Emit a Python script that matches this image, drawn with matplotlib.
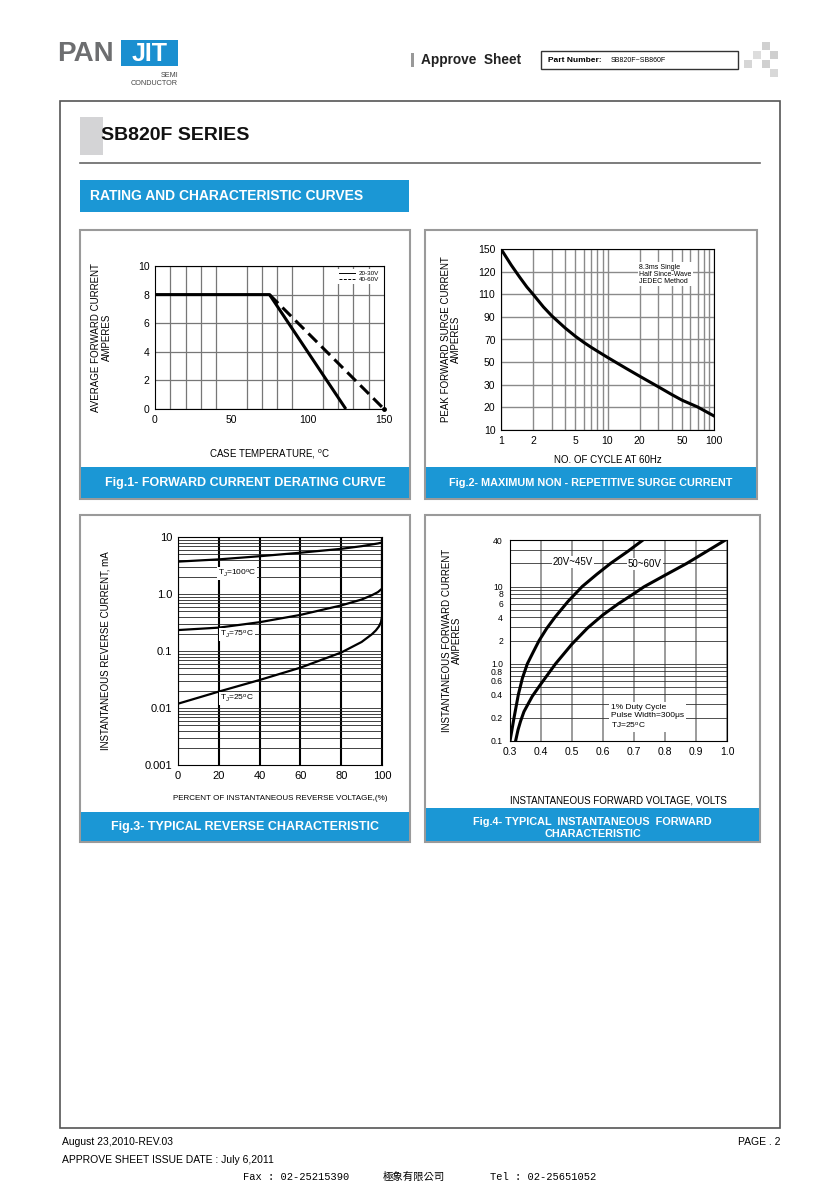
import numpy as np
import matplotlib
matplotlib.use("Agg")
import matplotlib.pyplot as plt
from matplotlib.patches import Rectangle
from matplotlib.lines import Line2D
from matplotlib.ticker import FixedLocator, NullFormatter, LogLocator

plt.rcParams["font.family"] = ["Liberation Sans", "DejaVu Sans"]
plt.rcParams["mathtext.fontset"] = "custom"
plt.rcParams["mathtext.rm"] = "Liberation Sans"
plt.rcParams["mathtext.it"] = "Liberation Sans:italic"

# ---------------- data ----------------
# Fig.1 forward current derating
temp_20_30 = [0, 75, 125]
amps_20_30 = [8, 8, 0]
temp_40_60 = [75, 150]
amps_40_60 = [8, 0]

# Fig.2 surge current
cycles = [1, 1.25, 1.5, 1.75, 2, 2.5, 3, 4, 5, 6, 7, 8, 10, 15, 20, 30, 40, 50, 70, 100]
surge = [150, 128.5, 117.5, 113.2, 110, 98.8, 90.9, 80.2, 72.8, 67.4, 63.2, 59.8, 54.2,
         44.4, 37.6, 29.1, 25.7, 23.2, 20.2, 16.2]
surge_ticks = [10, 20, 30, 50, 70, 90, 110, 120, 150]

# Fig.3 reverse characteristic
pct = [0, 20, 40, 60, 80, 90, 95, 98, 100]
ir_100 = [3.7, 4.05, 4.6, 5.3, 6.2, 6.9, 7.4, 7.7, 8.0]
ir_75 = [0.233, 0.257, 0.32, 0.43, 0.63, 0.8, 0.95, 1.08, 1.24]
pct_25 = [0, 20, 40, 60, 80, 90, 95, 97, 98.5, 99.5, 100, 100]
ir_25 = [0.0119, 0.0194, 0.031, 0.051, 0.094, 0.144, 0.196, 0.23, 0.27, 0.32, 0.4, 10]

# Fig.4 forward characteristic
vf_20_45 = [0.3, 0.313, 0.327, 0.34, 0.356, 0.375, 0.394, 0.418, 0.445, 0.487, 0.533,
            0.58, 0.625, 0.68, 0.729]
if_20_45 = [0.1, 0.2, 0.4, 0.65, 1.0, 1.42, 2.0, 2.85, 4.0, 6.4, 10, 14.4, 20, 28.5, 40]
vf_50_60 = [0.318, 0.326, 0.334, 0.345, 0.36, 0.372, 0.4, 0.447, 0.5, 0.55, 0.6, 0.65,
            0.7, 0.732, 0.8, 0.871, 0.93, 0.995]
if_50_60 = [0.1, 0.14, 0.18, 0.24, 0.31, 0.38, 0.55, 1.0, 1.8, 2.9, 4.3, 6.0, 8.1, 9.9,
            14, 20, 27.8, 40]
if_ticks = [0.1, 0.2, 0.4, 0.6, 0.8, 1.0, 2, 4, 6, 8, 10, 40]
if_labels = ["0.1", "0.2", "0.4", "0.6", "0.8", "1.0", "2", "4", "6", "8", "10", "40"]

# ---------------- page ----------------
W, H = 840, 1189
fig = plt.figure(figsize=(W / 100, H / 100), dpi=100)
fig.patch.set_facecolor("white")

page = fig.add_axes([0, 0, 1, 1])
page.set_xlim(0, W)
page.set_ylim(H, 0)
page.axis("off")

BLUE = "#1b97d5"


def box(x0, y0, x1, y1, **kw):
    page.add_patch(Rectangle((x0, y0), x1 - x0, y1 - y0, **kw))


def axes_at(x0, y0, x1, y1):
    return fig.add_axes([x0 / W, 1 - y1 / H, (x1 - x0) / W, (y1 - y0) / H])


# header
page.text(57, 54, "PAN", fontsize=20, fontweight="bold", color="#6d6e70", va="center")
box(121, 40, 178, 66, facecolor="#1a8fd0", edgecolor="none")
page.text(149.5, 54, "JIT", fontsize=18, fontweight="bold", color="white", va="center", ha="center")
page.text(178, 75.5, "SEMI", fontsize=5.2, color="#444444", ha="right", va="center")
page.text(178, 83.5, "CONDUCTOR", fontsize=5.2, color="#444444", ha="right", va="center")

box(411, 53, 414, 67, facecolor="#999999", edgecolor="none")
page.text(421, 60, "Approve  Sheet", fontsize=9.8, fontweight="bold", color="#222222", va="center")
box(541, 51, 738, 69, facecolor="white", edgecolor="#333333", lw=1)
page.text(548, 60, "Part Number:", fontsize=6, fontweight="bold", va="center")
page.text(611, 60.5, "SB820F~SB860F", fontsize=5, va="center")
for (cx, cy, c) in [(762, 42, "#d0d0d0"), (753, 51, "#dddddd"), (770, 51, "#cfcfcf"),
                    (744, 60, "#d6d6d6"), (762, 60, "#d0d0d0"), (770, 69, "#d8d8d8")]:
    box(cx, cy, cx + 8, cy + 8, facecolor=c, edgecolor="none")

# page frame
box(60, 101, 780, 1128, facecolor="none", edgecolor="#555555", lw=1.2)

box(80, 117, 103, 155, facecolor="#d4d4d6", edgecolor="none")
page.text(101, 136, "SB820F SERIES", fontsize=14, fontweight="bold", color="#111111", va="center")
page.plot([80, 760], [163, 163], color="#666666", lw=1.2)

box(80, 180, 409, 212, facecolor=BLUE, edgecolor="none")
page.text(90, 196, "RATING AND CHARACTERISTIC CURVES", fontsize=10, fontweight="bold",
          color="white", va="center")

# panels
panels = [
    (80, 230, 410, 499, 467, ["Fig.1- FORWARD CURRENT DERATING CURVE"], 9),
    (425, 230, 757, 499, 467, ["Fig.2- MAXIMUM NON - REPETITIVE SURGE CURRENT"], 7.8),
    (80, 515, 410, 842, 812, ["Fig.3- TYPICAL REVERSE CHARACTERISTIC"], 9),
    (425, 515, 760, 842, 808, ["Fig.4- TYPICAL  INSTANTANEOUS  FORWARD", "CHARACTERISTIC"], 7.8),
]
for x0, y0, x1, y1, yb, lines, fs in panels:
    box(x0, y0, x1, y1, facecolor="white", edgecolor="#9a9a9a", lw=1.5)
    box(x0 + 1, yb, x1 - 1, y1 - 1, facecolor=BLUE, edgecolor="none")
    if len(lines) == 1:
        page.text((x0 + x1) / 2, (yb + y1) / 2, lines[0], fontsize=fs, fontweight="bold",
                  color="white", ha="center", va="center")
    else:
        page.text((x0 + x1) / 2, yb + 14, lines[0], fontsize=fs, fontweight="bold",
                  color="white", ha="center", va="center")
        page.text((x0 + x1) / 2, yb + 26, lines[1], fontsize=fs, fontweight="bold",
                  color="white", ha="center", va="center")

# footer
page.text(62, 1142, "August 23,2010-REV.03", fontsize=7.5, va="center")
page.text(780, 1142, "PAGE . 2", fontsize=7.5, va="center", ha="right")
page.text(62, 1160, "APPROVE SHEET ISSUE DATE : July 6,2011", fontsize=7.5, va="center")
ff = ["Liberation Mono", "Noto Sans CJK TC"]
page.text(243, 1177, "Fax : 02-25215390", fontsize=7.5, va="center", family=ff)
page.text(383, 1177, "極象有限公司", fontsize=7.5, va="center", family=ff)
page.text(490, 1177, "Tel : 02-25651052", fontsize=7.5, va="center", family=ff)


def style(ax):
    for s in ax.spines.values():
        s.set_color("black")
        s.set_linewidth(0.8)
    ax.tick_params(which="both", length=0, labelsize=7.5, pad=4)


# ---------------- Fig.1 ----------------
ax1 = axes_at(155, 266, 384, 409)
ax1.plot(temp_20_30, amps_20_30, color="black", lw=2.2, solid_capstyle="butt")
ax1.plot(temp_40_60, amps_40_60, color="black", lw=2.2, dashes=(4, 2))
ax1.plot([temp_40_60[-1]], [amps_40_60[-1]], "o", color="black", ms=2.5, clip_on=False)
ax1.set_xlim(0, 150)
ax1.set_ylim(0, 10)
ax1.set_xticks([0, 50, 100, 150])
ax1.set_yticks([0, 2, 4, 6, 8, 10])
ax1.xaxis.set_minor_locator(FixedLocator(np.arange(0, 151, 10)))
ax1.grid(which="minor", axis="x", color="#777777", lw=0.9)
ax1.grid(which="major", axis="y", color="#777777", lw=0.9)
ax1.set_axisbelow(True)
style(ax1)
ax1.set_ylabel("AVERAGE FORWARD CURRENT\nAMPERES", fontsize=7, linespacing=1.0)
ax1.yaxis.set_label_coords(-0.19, 0.5)
ax1.set_xlabel("CASE TEMPERATURE, $^\\mathrm{o}$C", fontsize=7)
ax1.xaxis.set_label_coords(0.5, -0.27)
leg = ax1.legend(handles=[Line2D([], [], color="black", lw=0.7),
                          Line2D([], [], color="black", lw=0.7, dashes=(3, 1.5))],
                 labels=["20-30V", "40-60V"], loc="upper right", fontsize=4.5,
                 frameon=True, fancybox=False, handlelength=2.6, borderpad=0.3,
                 labelspacing=0.05, handletextpad=0.6, borderaxespad=0.5)
leg.get_frame().set_edgecolor("none")
leg.get_frame().set_facecolor("white")
leg.get_frame().set_alpha(1)

# ---------------- Fig.2 ----------------
ax2 = axes_at(501, 249, 714, 430)
idx = np.arange(len(surge_ticks), dtype=float)


def fwd(v):
    return np.interp(v, surge_ticks, idx)


def inv(i):
    return np.interp(i, idx, surge_ticks)


ax2.set_xscale("log")
ax2.set_yscale("function", functions=(fwd, inv))
ax2.plot(cycles, surge, color="black", lw=2.2)
ax2.set_xlim(1, 100)
ax2.set_ylim(10, 150)
ax2.set_yticks(surge_ticks)
ax2.set_yticklabels([str(v) for v in surge_ticks])
ax2.set_xticks([1, 2, 5, 10, 20, 50, 100])
ax2.set_xticklabels(["1", "2", "5", "10", "20", "50", "100"])
ax2.xaxis.set_minor_locator(LogLocator(base=10, subs=np.arange(2, 10)))
ax2.xaxis.set_minor_formatter(NullFormatter())
ax2.yaxis.set_minor_locator(FixedLocator([]))
ax2.grid(which="both", axis="x", color="#8a8a8a", lw=1.0)
ax2.grid(which="major", axis="y", color="#8a8a8a", lw=1.0)
ax2.set_axisbelow(True)
style(ax2)
ax2.set_ylabel("PEAK FORWARD SURGE CURRENT\nAMPERES", fontsize=7, linespacing=1.0)
ax2.yaxis.set_label_coords(-0.19, 0.5)
ax2.set_xlabel("NO. OF CYCLE AT 60Hz", fontsize=7)
ax2.xaxis.set_label_coords(0.5, -0.14)
ax2.text(0.65, 0.86, "8.3ms Single\nHalf Since-Wave\nJEDEC Method", transform=ax2.transAxes,
         fontsize=5, va="center", ha="left", linespacing=1.0,
         bbox=dict(facecolor="white", edgecolor="none", pad=1))

# ---------------- Fig.3 ----------------
ax3 = axes_at(178, 537, 382, 765)
ax3.set_yscale("log")
ax3.plot(pct, ir_100, color="black", lw=1.6)
ax3.plot(pct, ir_75, color="black", lw=1.6)
ax3.plot(pct_25, ir_25, color="black", lw=1.6)
ax3.set_xlim(0, 100)
ax3.set_ylim(0.001, 10)
ax3.set_xticks([0, 20, 40, 60, 80, 100])
ax3.set_yticks([0.001, 0.01, 0.1, 1, 10])
ax3.set_yticklabels(["0.001", "0.01", "0.1", "1.0", "10"])
ax3.yaxis.set_minor_locator(LogLocator(base=10, subs=np.arange(2, 10)))
ax3.yaxis.set_minor_formatter(NullFormatter())
ax3.xaxis.set_minor_locator(FixedLocator([]))
ax3.grid(which="both", axis="y", color="#222222", lw=0.6)
ax3.grid(which="major", axis="x", color="black", lw=1.5)
ax3.set_axisbelow(True)
style(ax3)
ax3.tick_params(labelsize=8)
for yv, lab in [(2.3, "100"), (0.196, "75"), (0.0146, "25")]:
    ax3.text(29, yv, "T$_\\mathrm{J}$=" + lab + "$^\\mathrm{o}$C", fontsize=6, ha="center",
             va="center", bbox=dict(facecolor="white", edgecolor="none", pad=0.6))
ax3.set_ylabel("INSTANTANEOUS REVERSE CURRENT, mA", fontsize=7)
ax3.yaxis.set_label_coords(-0.33, 0.5)
ax3.set_xlabel("PERCENT OF INSTANTANEOUS REVERSE VOLTAGE,(%)", fontsize=5.8)
ax3.xaxis.set_label_coords(0.5, -0.13)

# ---------------- Fig.4 ----------------
ax4 = axes_at(510, 540, 727, 741)
ax4.set_yscale("log")
ax4.plot(vf_20_45, if_20_45, color="black", lw=2.2)
ax4.plot(vf_50_60, if_50_60, color="black", lw=2.2)
ax4.set_xlim(0.3, 1.0)
ax4.set_ylim(0.1, 40)
ax4.set_xticks(np.round(np.arange(0.3, 1.01, 0.1), 1))
ax4.set_xticklabels(["0.3", "0.4", "0.5", "0.6", "0.7", "0.8", "0.9", "1.0"])
ax4.set_yticks(if_ticks)
ax4.set_yticklabels(if_labels)
ax4.yaxis.set_minor_locator(LogLocator(base=10, subs=np.arange(2, 10)))
ax4.yaxis.set_minor_formatter(NullFormatter())
ax4.grid(which="both", axis="y", color="#333333", lw=0.6)
ax4.grid(which="major", axis="x", color="#8a8a8a", lw=1.2)
ax4.set_axisbelow(True)
style(ax4)
ax4.tick_params(axis="x", labelsize=7.5)
ax4.tick_params(axis="y", labelsize=6.2, pad=5)
ax4.text(0.503, 20.7, "20V~45V", fontsize=7, ha="center", va="center",
         bbox=dict(facecolor="white", edgecolor="none", pad=0.8))
ax4.text(0.735, 19.5, "50~60V", fontsize=7, ha="center", va="center",
         bbox=dict(facecolor="white", edgecolor="none", pad=0.8))
ax4.text(0.625, 0.205, "1% Duty Cycle\nPulse Width=300\u03bcs\nTJ=25$^\\mathrm{o}$C", fontsize=6,
         ha="left", va="center", linespacing=1.1,
         bbox=dict(facecolor="white", edgecolor="none", pad=1.5))
ax4.set_ylabel("INSTANTANEOUS FORWARD CURRENT\nAMPERES", fontsize=7, linespacing=1.0)
ax4.yaxis.set_label_coords(-0.22, 0.5)
ax4.set_xlabel("INSTANTANEOUS FORWARD VOLTAGE, VOLTS", fontsize=7)
ax4.xaxis.set_label_coords(0.5, -0.27)

fig.savefig("out.png", dpi=100, facecolor="white")
